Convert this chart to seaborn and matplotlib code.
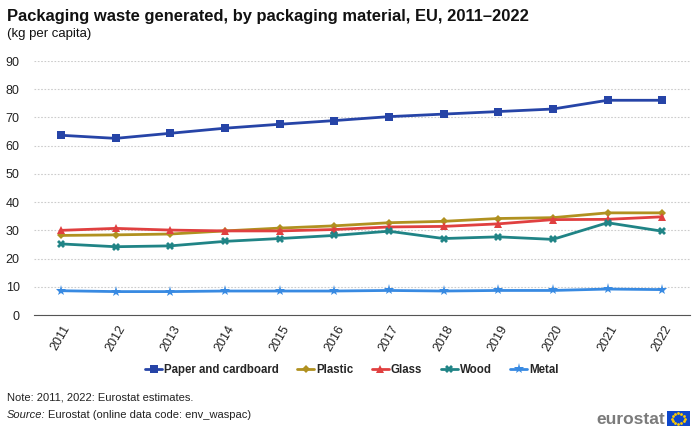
import numpy as np
import pandas as pd
import matplotlib.pyplot as plt
import matplotlib.patches as mpatches
import seaborn as sns

years = [2011, 2012, 2013, 2014, 2015, 2016, 2017, 2018, 2019, 2020, 2021, 2022]
materials = ['Paper and cardboard', 'Plastic', 'Glass', 'Wood', 'Metal']
paper = [63.7, 62.6, 64.4, 66.2, 67.6, 68.9, 70.3, 71.2, 72.1, 73.0, 76.1, 76.1]
plastic = [28.2, 28.4, 28.7, 29.8, 30.8, 31.6, 32.7, 33.2, 34.2, 34.5, 36.2, 36.2]
glass = [30.0, 30.7, 30.1, 29.8, 29.8, 30.3, 31.2, 31.4, 32.3, 33.8, 33.9, 34.8]
wood = [25.2, 24.2, 24.5, 26.1, 27.1, 28.2, 29.7, 27.1, 27.7, 26.8, 32.7, 29.7]
metal = [8.6, 8.3, 8.3, 8.5, 8.5, 8.5, 8.7, 8.5, 8.7, 8.7, 9.2, 9.0]

colors = ['#2644A7', '#B09120', '#E04040', '#208486', '#388AE2']
markers = ['s', 'D', '^', 'X', '*']
msizes = [6, 4.5, 6, 6, 8]

df = pd.DataFrame({'year': years * 5,
                   'value': paper + plastic + glass + wood + metal,
                   'material': [m for m in materials for _ in years]})
df['pos'] = df['year'].map({y: i for i, y in enumerate(years)})

sns.set_style('white')
plt.rcParams['font.family'] = ['Liberation Sans', 'DejaVu Sans']

fig = plt.figure(figsize=(7, 4.33), dpi=100)
ax = fig.add_axes([0.048, 0.2725, 0.937, 0.5865])

for mat, c, mk, ms in zip(materials, colors, markers, msizes):
    sns.lineplot(data=df[df['material'] == mat], x='pos', y='value', ax=ax,
                 color=c, marker=mk, markersize=ms, markeredgewidth=0,
                 linewidth=2, label=mat)

ax.set_xlim(-0.5, len(years) - 0.5)
ax.set_ylim(0, 90)
ax.set_yticks(range(0, 91, 10))
ax.set_xticks(range(len(years)))
ax.set_xticklabels([str(y) for y in years], rotation=60, fontsize=9, color='#222222')
ax.set_xticks(np.arange(-0.5, len(years)), minor=True)
ax.tick_params(axis='x', which='major', length=0, pad=6)
ax.tick_params(axis='x', which='minor', length=5, color='#555555', width=1)
ax.tick_params(axis='y', length=0, labelsize=9, labelcolor='#222222', pad=10)
ax.grid(axis='y', color='#cccccc', linestyle=(0, (1.5, 1.5)), linewidth=0.8)
ax.set_axisbelow(True)
for s in ['left', 'right', 'top']:
    ax.spines[s].set_visible(False)
ax.spines['bottom'].set_color('#555555')
ax.set_xlabel('')
ax.set_ylabel('')

ax.legend(loc='center', bbox_to_anchor=(0.485, -0.217), ncol=5, frameon=False,
          handlelength=1.5, handletextpad=0.15, columnspacing=1.6,
          prop={'weight': 'bold', 'size': 8.3})

fig.text(0.01, 0.963, 'Packaging waste generated, by packaging material, EU, 2011\u20132022',
         fontsize=11.9, fontweight='bold', va='center', color='#111111')
fig.text(0.01, 0.922, '(kg per capita)', fontsize=9.5, va='center', color='#111111')
fig.text(0.01, 0.082, 'Note: 2011, 2022: Eurostat estimates.', fontsize=8, va='center', color='#222222')
fig.text(0.01, 0.042, 'Source:', fontsize=8, va='center', style='italic', color='#222222')
fig.text(0.069, 0.042, 'Eurostat (online data code: env_waspac)', fontsize=8, va='center', color='#222222')

fig.text(0.950, 0.032, 'eurostat', fontsize=12.5, fontweight='bold', color='#7b7b7b',
         ha='right', va='center')
flag = mpatches.Rectangle((0.953, 0.016), 0.032, 0.034, transform=fig.transFigure,
                          facecolor='#0e47cb', edgecolor='none')
fig.patches.append(flag)
ang = np.linspace(0, 2 * np.pi, 12, endpoint=False)
fig.lines.append(plt.Line2D(0.969 + 0.009 * np.cos(ang), 0.033 + 0.0125 * np.sin(ang),
                            transform=fig.transFigure, linestyle='none', marker='o',
                            markersize=1, color='#ffcc00'))

fig.savefig('out.png', dpi=100)
